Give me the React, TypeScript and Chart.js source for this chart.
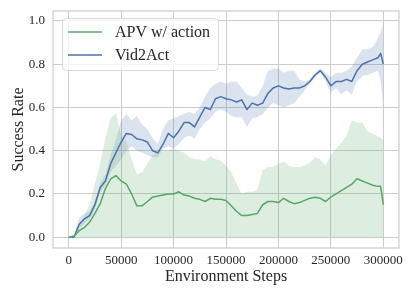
import React, { useEffect, useRef } from "react";
import { Chart, registerables } from "chart.js";

Chart.register(...registerables);

const steps = [
  0, 5000, 10000, 15000, 20000, 25000, 30000, 35000, 40000, 45000,
  50000, 55000, 60000, 65000, 70000, 75000, 80000, 85000, 90000, 95000,
  100000, 105000, 110000, 115000, 120000, 125000, 130000, 135000, 140000, 145000,
  150000, 155000, 160000, 165000, 170000, 175000, 180000, 185000, 190000, 195000,
  200000, 205000, 210000, 215000, 220000, 225000, 230000, 235000, 240000, 245000,
  250000, 255000, 260000, 265000, 270000, 275000, 280000, 285000, 290000, 295000,
  297500, 300000,
];

const apvMean = [
  0, 0.005, 0.03, 0.045, 0.07, 0.11, 0.155, 0.225, 0.27, 0.285,
  0.26, 0.245, 0.2, 0.145, 0.145, 0.165, 0.185, 0.19, 0.195, 0.2,
  0.2, 0.21, 0.195, 0.19, 0.18, 0.175, 0.165, 0.18, 0.175, 0.175,
  0.17, 0.145, 0.12, 0.1, 0.1, 0.105, 0.11, 0.15, 0.165, 0.165,
  0.16, 0.18, 0.165, 0.155, 0.16, 0.17, 0.18, 0.185, 0.18, 0.165,
  0.185, 0.2, 0.215, 0.23, 0.245, 0.27, 0.26, 0.25, 0.24, 0.235,
  0.235, 0.15,
];

const apvUpper = [
  0, 0.01, 0.05, 0.1, 0.15, 0.25, 0.34, 0.46, 0.55, 0.575,
  0.47, 0.44, 0.36, 0.29, 0.3, 0.34, 0.38, 0.4, 0.4, 0.4,
  0.41, 0.4, 0.39, 0.37, 0.36, 0.36, 0.35, 0.375, 0.36, 0.355,
  0.33, 0.3, 0.25, 0.2, 0.21, 0.21, 0.22, 0.31, 0.325, 0.325,
  0.34, 0.35, 0.33, 0.325, 0.325, 0.33, 0.345, 0.37, 0.36, 0.33,
  0.38, 0.41, 0.435, 0.47, 0.54, 0.53, 0.53, 0.49, 0.48, 0.465,
  0.46, 0.45,
];

const vidMean = [
  0, 0, 0.06, 0.085, 0.1, 0.15, 0.23, 0.26, 0.34, 0.39,
  0.44, 0.48, 0.475, 0.455, 0.45, 0.44, 0.4, 0.39, 0.43, 0.48,
  0.46, 0.49, 0.53, 0.53, 0.51, 0.555, 0.6, 0.59, 0.64, 0.65,
  0.64, 0.635, 0.625, 0.635, 0.59, 0.62, 0.61, 0.62, 0.665, 0.69,
  0.7, 0.69, 0.685, 0.69, 0.69, 0.7, 0.72, 0.75, 0.77, 0.74,
  0.7, 0.72, 0.72, 0.73, 0.72, 0.77, 0.8, 0.81, 0.82, 0.83,
  0.85, 0.8,
];

const vidUpper = [
  0, 0.005, 0.09, 0.11, 0.12, 0.17, 0.25, 0.29, 0.38, 0.45,
  0.54, 0.57, 0.54, 0.56, 0.52, 0.5, 0.46, 0.43, 0.5, 0.54,
  0.55, 0.56, 0.57, 0.58, 0.57, 0.6, 0.65, 0.69, 0.71, 0.72,
  0.71, 0.72, 0.72, 0.69, 0.66, 0.65, 0.655, 0.7, 0.77, 0.78,
  0.78, 0.76, 0.77, 0.77, 0.73, 0.72, 0.73, 0.76, 0.78, 0.76,
  0.74, 0.76, 0.76, 0.77, 0.79, 0.83, 0.87, 0.87, 0.88, 0.92,
  0.95, 0.99,
];

const vidLower = [
  0, 0, 0.04, 0.065, 0.085, 0.13, 0.21, 0.24, 0.3, 0.33,
  0.36, 0.4, 0.42, 0.4, 0.39, 0.38, 0.37, 0.37, 0.41, 0.42,
  0.41, 0.43, 0.46, 0.47, 0.455, 0.5, 0.53, 0.55, 0.58, 0.59,
  0.58, 0.56, 0.555, 0.555, 0.51, 0.55, 0.555, 0.57, 0.6, 0.62,
  0.61, 0.6, 0.61, 0.62, 0.65, 0.68, 0.71, 0.74, 0.76, 0.72,
  0.67, 0.69, 0.66, 0.68, 0.66, 0.72, 0.745, 0.75, 0.76, 0.77,
  0.72, 0.6,
];

const xTicks = [0, 50000, 100000, 150000, 200000, 250000, 300000];
const yTicks = [0, 0.2, 0.4, 0.6, 0.8, 1.0];

const seriesLabels = ["APV w/ action", "Vid2Act"];
const GREEN = "#55a868";
const BLUE = "#4c72b0";
const SERIF = "'Liberation Serif', 'Times New Roman', serif";
const TEXT = "#262626";
const GRID = "#cccccc";

const frameAndLegend = {
  id: "frameAndLegend",
  beforeDatasetsDraw(chart: any) {
    const { ctx, chartArea } = chart;
    ctx.save();
    ctx.strokeStyle = GRID;
    ctx.lineWidth = 1.2;
    ctx.strokeRect(chartArea.left, chartArea.top, chartArea.right - chartArea.left, chartArea.bottom - chartArea.top);
    ctx.restore();
  },
  afterDraw(chart: any) {
    const { ctx, chartArea } = chart;
    const bx = chartArea.left + 9;
    const by = chartArea.top + 7;
    const bw = 156;
    const bh = 52;
    ctx.save();
    ctx.beginPath();
    ctx.roundRect(bx + 0.5, by + 0.5, bw, bh, 4);
    ctx.fillStyle = "rgba(255,255,255,0.8)";
    ctx.fill();
    ctx.strokeStyle = "#d9d9d9";
    ctx.lineWidth = 1;
    ctx.stroke();
    const colors = [GREEN, BLUE];
    seriesLabels.forEach((lab, i) => {
      const cy = by + 14 + i * 23;
      ctx.beginPath();
      ctx.moveTo(bx + 6, cy);
      ctx.lineTo(bx + 40, cy);
      ctx.strokeStyle = colors[i];
      ctx.lineWidth = 1.5;
      ctx.stroke();
      ctx.fillStyle = TEXT;
      ctx.font = `16px ${SERIF}`;
      ctx.textBaseline = "alphabetic";
      ctx.textAlign = "left";
      ctx.fillText(lab, bx + 53, cy + 5.3);
    });
    ctx.restore();
  },
};

export default function App() {
  const ref = useRef<HTMLCanvasElement>(null);
  useEffect(() => {
    document.body.style.margin = "0";
    const pts = (arr: number[]) => steps.map((s, i) => ({ x: s, y: arr[i] }));
    const chart = new Chart(ref.current!, {
      type: "line",
      data: {
        datasets: [
          {
            label: "apv-band",
            data: pts(apvUpper),
            borderWidth: 0,
            pointRadius: 0,
            fill: { value: 0 },
            backgroundColor: "rgba(85,168,104,0.2)",
            borderColor: "rgba(0,0,0,0)",
          },
          {
            label: "vid-upper",
            data: pts(vidUpper),
            borderWidth: 0,
            pointRadius: 0,
            fill: "+1",
            backgroundColor: "rgba(76,114,176,0.2)",
            borderColor: "rgba(0,0,0,0)",
          },
          {
            label: "vid-lower",
            data: pts(vidLower),
            borderWidth: 0,
            pointRadius: 0,
            fill: false,
            borderColor: "rgba(0,0,0,0)",
          },
          {
            label: seriesLabels[0],
            data: pts(apvMean),
            borderColor: GREEN,
            borderWidth: 1.5,
            pointRadius: 0,
            fill: false,
          },
          {
            label: seriesLabels[1],
            data: pts(vidMean),
            borderColor: BLUE,
            borderWidth: 1.5,
            pointRadius: 0,
            fill: false,
          },
        ],
      },
      options: {
        animation: false,
        responsive: false,
        events: [],
        layout: { padding: { top: 11, right: 16, left: 0, bottom: 0 } },
        elements: { line: { tension: 0, borderJoinStyle: "round" } },
        plugins: {
          legend: { display: false },
          tooltip: { enabled: false },
          filler: { drawTime: "beforeDatasetsDraw" },
        } as any,
        scales: {
          x: {
            type: "linear",
            min: -15000,
            max: 315000,
            afterBuildTicks: (s: any) => {
              s.ticks = xTicks.map((v) => ({ value: v }));
            },
            afterFit: (s: any) => {
              s.height = 49;
              s.paddingLeft = 0;
              s.paddingRight = 0;
            },
            ticks: {
              callback: (v: any) => String(v),
              font: { family: SERIF, size: 13 },
              color: TEXT,
              padding: 5,
              maxRotation: 0,
              autoSkip: false,
            },
            grid: { color: GRID, lineWidth: 1, drawTicks: false },
            border: { display: false },
            title: {
              display: true,
              text: "Environment Steps",
              font: { family: SERIF, size: 16 },
              color: TEXT,
              padding: { top: 0, bottom: 11 },
            },
          },
          y: {
            type: "linear",
            min: -0.05,
            max: 1.046,
            afterBuildTicks: (s: any) => {
              s.ticks = yTicks.map((v) => ({ value: v }));
            },
            afterFit: (s: any) => {
              s.width = 53;
              s.paddingTop = 0;
              s.paddingBottom = 0;
            },
            ticks: {
              callback: (v: any) => Number(v).toFixed(1),
              font: { family: SERIF, size: 13 },
              color: TEXT,
              padding: 8,
              autoSkip: false,
            },
            grid: { color: GRID, lineWidth: 1, drawTicks: false },
            border: { display: false },
            title: {
              display: true,
              text: "Success Rate",
              font: { family: SERIF, size: 16 },
              color: TEXT,
              padding: { top: 9, bottom: 0 },
            },
          },
        },
      },
      plugins: [frameAndLegend],
    } as any);
    return () => chart.destroy();
  }, []);
  return (
    <div style={{ width: 415, height: 297 }}>
      <canvas ref={ref} width={415} height={297} style={{ display: "block" }} />
    </div>
  );
}
